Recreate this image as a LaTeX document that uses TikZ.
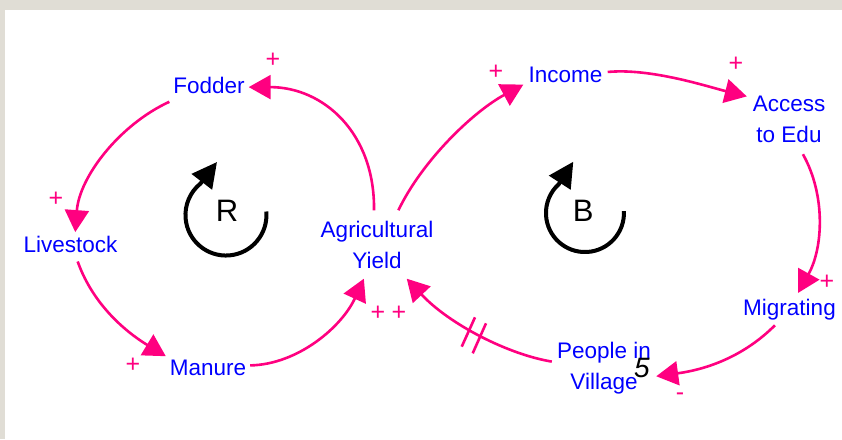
\documentclass[tikz,border=0pt]{standalone}
\usepackage{fontspec}
\setmainfont{Liberation Sans}
\usetikzlibrary{arrows.meta}
\definecolor{cldpink}{RGB}{255,0,128}
\definecolor{cldblue}{RGB}{0,0,255}
\definecolor{framegray}{RGB}{224,221,213}
\tikzset{
  var/.style={text=cldblue, font=\fontsize{22.5}{31}\selectfont, inner sep=0pt, align=center},
  one/.style={text height=16.5pt, text depth=4.7pt},
  link/.style={draw=cldpink, line width=2.6pt, -{Triangle[length=22pt,width=24pt]}},
  pol/.style={text=cldpink, font=\fontsize{25}{25}\selectfont, inner sep=0pt},
  loopline/.style={draw=black, line width=4pt, -{Triangle[length=25pt,width=25pt]}},
  looplbl/.style={font=\fontsize{31}{31}\selectfont, inner sep=0pt, anchor=base},
  hatch/.style={draw=cldpink, line width=2.6pt},
}
\begin{document}
\begin{tikzpicture}[x=1pt,y=-1pt]
\useasboundingbox (0,0) rectangle (842,439);
\fill[framegray] (0,0) rectangle (842,439);
\fill[white] (5,10) rectangle (842,439);

% variables
\node[var,one,minimum width=79pt,minimum height=29pt] (fod) at (209,87.1) {Fodder};
\node[var,one,minimum width=102pt,minimum height=29pt] (liv) at (70.5,246.8) {Livestock};
\node[var,one,minimum width=84pt,minimum height=29pt] (man) at (208,369.1) {Manure};
\node[var,minimum width=128pt,minimum height=68pt] (ay) at (377,244.5) {Agricultural\\Yield};
\node[var,one,minimum width=84pt,minimum height=30pt] (inc) at (565.5,76.4) {Income};
\node[var,minimum width=84pt,minimum height=68.4pt] (acc) at (789,119.8) {Access\\to Edu};
\node[var,one,minimum width=96pt,minimum height=32pt] (mig) at (789.5,309.1) {Migrating};
\node[var,minimum width=104pt,minimum height=56pt] (pv) at (604,368) {People in\\Village};
\node[font=\fontsize{28}{28}\selectfont\itshape, anchor=base, inner sep=0pt] (five) at (642,377.3) {5};

% causal links
\draw[link] (ay.95) .. controls +(1,-77) and +(75,0) .. (fod.east);
\draw[link] (fod.south west) .. controls +(-50,23) and +(4,-55) .. (liv.72);
\draw[link] (liv.-64) .. controls +(17,48) and +(-33,-20) .. (man.163);
\draw[link] (man.5) .. controls +(48,-1) and +(-22,48) .. (ay.-111);
\draw[link] (ay.58) .. controls +(24,-50) and +(-50,27) .. (inc.-169);
\draw[link] (inc.6) .. controls +(43,-4) and +(-40,-10) .. (acc.151);
\draw[link] (acc.-68) .. controls +(23,41) and +(25,-45) .. (mig.62);
\draw[link] (mig.-132) .. controls +(-31,31) and +(51,-7) .. (pv.-9);
\draw[link] (pv.173) .. controls +(-43,-7) and +(43,46) .. (ay.-49);

% delay marks
\draw[hatch] (461.7,346.7) -- (475,317.3);
\draw[hatch] (472.7,353.3) -- (486,323.3);

% polarities
\node[pol] (p1) at (273,60) {+};
\node[pol] (p2) at (56,199) {+};
\node[pol] (p3) at (133,365) {+};
\node[pol] (p4) at (378,313) {+};
\node[pol] (p5) at (399,313) {+};
\node[pol] (p6) at (496,72.5) {+};
\node[pol] (p7) at (736,64) {+};
\node[pol] (p8) at (827,282) {+};
\node[pol] (p9) at (680,397) {-};

% loop symbols
\draw[loopline] (266.3,211.5) arc[start angle=-5,end angle=231,radius=40.5] -- (217,162);
\node[looplbl] (rl) at (227,221.7) {R};
\draw[loopline] (623.9,211) arc[start angle=-3,end angle=228,radius=39] -- (573.3,161.7);
\node[looplbl] (bl) at (583.3,221.7) {B};
\end{tikzpicture}
\end{document}
